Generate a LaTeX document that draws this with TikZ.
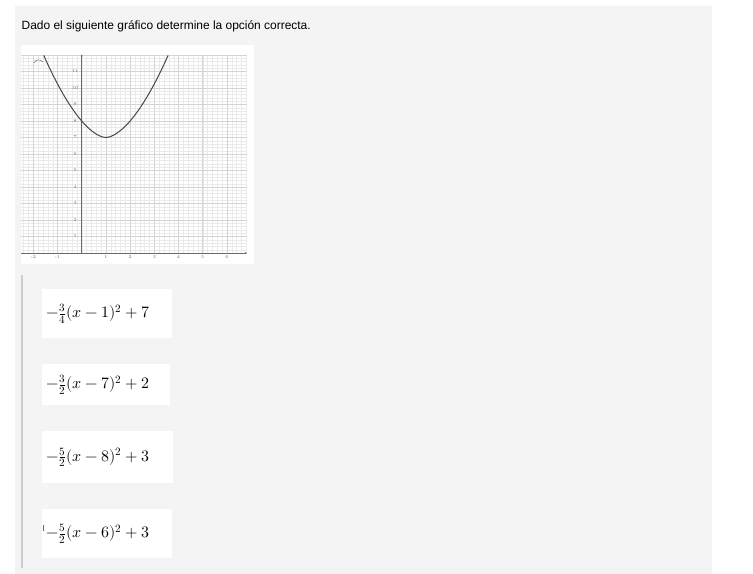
\documentclass[tikz,border=0pt]{standalone}
\usepackage{amsmath}
\usepackage{fontspec}
\usepackage{unicode-math}
\setmathfont{Latin Modern Math}
\usetikzlibrary{arrows.meta}
\newfontfamily\titlefont{Liberation Sans}
\definecolor{panelgray}{RGB}{244,244,244}
\definecolor{bargray}{RGB}{205,205,205}
\definecolor{gridmajor}{RGB}{212,212,212}
\definecolor{gridminor}{RGB}{234,234,234}
\definecolor{axisgray}{RGB}{105,105,105}
\definecolor{curvegray}{RGB}{72,72,72}
\tikzset{optbox/.style={anchor=north west, fill=white, inner xsep=4bp, inner ysep=0pt, text width=#1, align=left, font=\fontsize{16}{18}\selectfont}}
\tikzset{ticklbl/.style={font=\fontsize{4.5}{5}\selectfont, text=axisgray, inner sep=0pt}}

\begin{document}
\begin{tikzpicture}[x=1bp, y=-1bp]
        \useasboundingbox (0,0) rectangle (753,574);
        \fill[panelgray] (15,6) rectangle (712,574);
        \node (title) [anchor=base west, inner sep=0pt, font=\titlefont\fontsize{12}{14}\selectfont] at (21.5,30) {Dado el siguiente gráfico determine la opción correcta.};

        % graph picture
        \fill[white] (21,45) rectangle (254,264);
        \begin{scope}[shift={(81.7,253)}, x=24.2bp, y=16.5bp]
            \draw[gridminor, line width=0.3bp, step=0.2] (-2.51,0) grid (6.83,12.03);
            \draw[gridmajor, line width=0.5bp, step=1] (-2.51,0) grid (6.83,12.03);
            \coordinate (xleft) at (-2.51,0);
            \coordinate (xright) at (6.83,0);
            \coordinate (ybot) at (0,0);
            \coordinate (ytop) at (0,12.03);
            \draw[axisgray, line width=0.6bp, -{Stealth[length=2bp, width=2bp]}] (xleft) -- (xright);
            \draw[axisgray, line width=0.6bp, -{Stealth[length=2bp, width=2bp]}] (ybot) -- (ytop);
            \foreach \v in {1,...,11}
                \node (ty\v) [ticklbl] at (-0.27,\v) {\v};
            \foreach \u in {-2,-1,1,2,3,4,5,6}
                \node (tx\u) [ticklbl] at (\u,-0.22) {\u};
            \draw[curvegray, line width=1bp, domain=-1.57:3.57, samples=60, smooth]
                plot (\x, {7+(abs(\x-1)+0.0001)^1.7});
        \end{scope}
        \draw[axisgray, line width=0.5bp] (34,63) .. controls (36,59) and (40,59) .. (43,62);

        % options
        \fill[bargray] (21,275) rectangle (23,568);
        \node (opt1) [optbox=122bp, minimum height=49bp] at (42,289) {$-\frac{3}{4}(x-1)^2+7$};
        \node (opt2) [optbox=120bp, minimum height=41bp] at (42,364) {$-\frac{3}{2}(x-7)^2+2$};
        \node (opt3) [optbox=123bp, minimum height=52bp] at (42,431) {$-\frac{5}{2}(x-8)^2+3$};
        \node (opt4) [optbox=122bp, minimum height=49bp] at (42,509) {$-\frac{5}{2}(x-6)^2+3$};
        \draw[axisgray, line width=0.5bp] (43,525) -- (43,531);
\end{tikzpicture}
\end{document}
